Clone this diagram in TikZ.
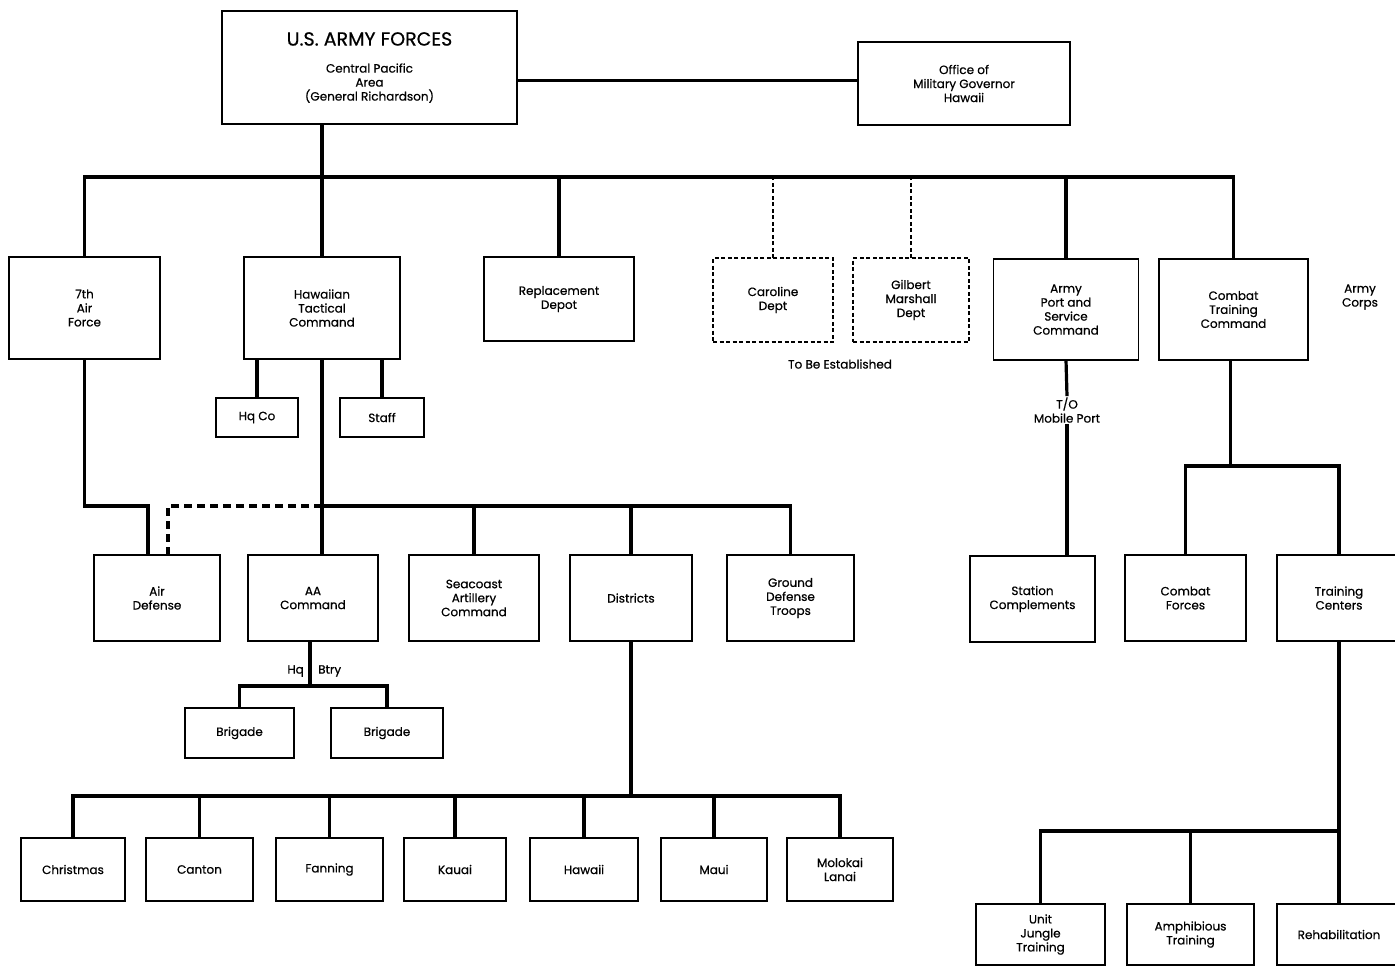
\documentclass[tikz,border=0pt]{standalone}
\usepackage{fontspec}
\setmainfont{Poppins}[FakeBold=0.6]
\usetikzlibrary{positioning}

\newcommand{\boxfont}{\fontsize{12}{14}\selectfont}
\newcommand{\titlefont}{\fontsize{19}{22}\selectfont}

\tikzset{
  box/.style={draw, line width=1.6pt, align=center, inner sep=0pt, outer sep=0pt, font=\boxfont},
  dbox/.style={box, line width=1.3pt, dash pattern=on 4pt off 2.5pt},
  conn/.style={line width=3.2pt},
  thindash/.style={line width=1.4pt, dash pattern=on 4pt off 2.5pt},
  thickdash/.style={line width=3.2pt, dash pattern=on 8pt off 5pt},
  lbl/.style={align=center, inner sep=1pt, font=\boxfont},
}

\begin{document}
\begin{tikzpicture}[x=1pt, y=-1pt]
  \clip (0,0) rectangle (1395,967);
  \fill[white] (0,0) rectangle (1395,967);

  % top level
  \node[box, minimum width=295, minimum height=113] (top) at (369.5,67.5)
    {{\titlefont U.S.\ ARMY FORCES}\\[13pt] Central Pacific\\Area\\(General Richardson)};
  \node[box, minimum width=212, minimum height=83] (omg) at (964,83.5)
    {Office of\\Military Governor\\Hawaii};

  % second row
  \node[box, minimum width=151, minimum height=102] (af) at (84.5,308) {7th\\Air\\Force};
  \node[box, minimum width=156, minimum height=102] (htc) at (322,308) {Hawaiian\\Tactical\\Command};
  \node[box, minimum width=150, minimum height=84] (rd) at (559,299) {Replacement\\Depot};
  \node[dbox, minimum width=120, minimum height=84] (cd) at (773,300) {Caroline\\Dept};
  \node[dbox, minimum width=116, minimum height=84] (gmd) at (911,300) {Gilbert\\Marshall\\Dept};
  \node[box, minimum width=145, minimum height=101] (apsc) at (1066,309.5) {Army\\Port and\\Service\\Command};
  \node[box, minimum width=149, minimum height=101] (ctc) at (1233.5,309.5) {Combat\\Training\\Command};
  \node[lbl] (corps) at (1360,297) {Army\\Corps};
  \node[lbl] (tbe) at (840,364) {To Be Established};

  % under Hawaiian Tactical Command
  \node[box, minimum width=82, minimum height=39] (hq) at (257,417.5) {Hq Co};
  \node[box, minimum width=84, minimum height=39] (staff) at (382,417.5) {Staff};

  % third row
  \node[box, minimum width=126, minimum height=86] (ad) at (157,598) {Air\\Defense};
  \node[box, minimum width=130, minimum height=86] (aa) at (313,598) {AA\\Command};
  \node[box, minimum width=130, minimum height=86] (sac) at (474,598) {Seacoast\\Artillery\\Command};
  \node[box, minimum width=122, minimum height=86] (dist) at (631,598) {Districts};
  \node[box, minimum width=127, minimum height=86] (gdt) at (790.5,598) {Ground\\Defense\\Troops};
  \node[box, minimum width=125, minimum height=86] (sc) at (1032.5,599) {Station\\Complements};
  \node[box, minimum width=121, minimum height=86] (cf) at (1185.5,598) {Combat\\Forces};
  \node[box, minimum width=124, minimum height=86] (tc) at (1339,598) {Training\\Centers};

  % brigades
  \node[box, minimum width=109, minimum height=50] (br1) at (239.5,733) {Brigade};
  \node[box, minimum width=112, minimum height=50] (br2) at (387,733) {Brigade};
  \node[lbl, anchor=east] (hqlbl) at (305,671) {Hq};
  \node[lbl, anchor=west] (btry) at (317,671) {Btry};

  % districts
  \node[box, minimum width=104, minimum height=63] (chr) at (73,869.5) {Christmas};
  \node[box, minimum width=107, minimum height=63] (can) at (199.5,869.5) {Canton};
  \node[box, minimum width=107, minimum height=63] (fan) at (329.5,869.5) {Fanning};
  \node[box, minimum width=102, minimum height=63] (kau) at (455,869.5) {Kauai};
  \node[box, minimum width=108, minimum height=63] (haw) at (584,869.5) {Hawaii};
  \node[box, minimum width=106, minimum height=63] (mau) at (714,869.5) {Maui};
  \node[box, minimum width=106, minimum height=63] (mol) at (840,869.5) {Molokai\\Lanai};

  % training centers
  \node[box, minimum width=129, minimum height=61] (ujt) at (1040.5,934.5) {Unit\\Jungle\\Training};
  \node[box, minimum width=127, minimum height=61] (amt) at (1190.5,934.5) {Amphibious\\Training};
  \node[box, minimum width=124, minimum height=61] (reh) at (1339,934.5) {Rehabilitation};

  % T/O label on the port line
  \node[lbl] (tomp) at (1067,410) {T/O\\Mobile Port};

  % bus lines
  \coordinate (b1) at (0,177);
  \coordinate (b2) at (0,506);
  \coordinate (b3) at (0,686);
  \coordinate (b4) at (0,796);
  \coordinate (b5) at (0,466);
  \coordinate (b6) at (0,831);

  % connectors, top level
  \draw[conn] ([yshift=3pt]omg.west) -- ([yshift=3pt]omg.west -| top.east);
  \draw[conn] (top.south -| htc.north) -- (htc.north);
  \draw[conn] (af.north) |- (ctc.north |- b1) -- (ctc.north);
  \draw[conn] (rd.north) -- (rd.north |- b1);
  \draw[conn] (apsc.north) -- (apsc.north |- b1);
  \draw[thindash] (cd.north) -- (cd.north |- b1);
  \draw[thindash] (gmd.north) -- (gmd.north |- b1);

  % Hawaiian Tactical Command
  \draw[conn] (hq.north) -- (hq.north |- htc.south);
  \draw[conn] (staff.north) -- (staff.north |- htc.south);
  \draw[conn] (htc.south) -- (htc.south |- aa.north);
  \draw[conn] (htc.south |- b2) -| (gdt.north);
  \draw[conn] (sac.north) -- (sac.north |- b2);
  \draw[conn] (dist.north) -- (dist.north |- b2);
  \draw[conn] (af.south) |- ([xshift=-9pt]ad.north |- b2) -- ([xshift=-9pt]ad.north);
  \draw[thickdash] (htc.south |- b2) -| ([xshift=11pt]ad.north);

  % AA Command
  \draw[conn] ([xshift=-3pt]aa.south) -- ([xshift=-3pt]aa.south |- b3);
  \draw[conn] (br1.north) |- (br2.north |- b3) -- (br2.north);

  % Districts
  \draw[conn] (dist.south) -- (dist.south |- b4);
  \draw[conn] (chr.north) |- (mol.north |- b4) -- (mol.north);
  \foreach \n in {can, fan, kau, haw, mau}
    \draw[conn] (\n.north) -- (\n.north |- b4);

  % Army Port and Service Command
  \draw[conn] (apsc.south) -- (tomp.north);
  \draw[conn] (tomp.south) -- (tomp.south |- sc.north);

  % Combat Training Command
  \draw[conn] ([xshift=-3pt]ctc.south) -- ([xshift=-3pt]ctc.south |- b5);
  \draw[conn] (cf.north) |- (tc.north |- b5) -- (tc.north);
  \draw[conn] (tc.south) -- (reh.north);
  \draw[conn] (ujt.north) |- (tc.south |- b6);
  \draw[conn] (amt.north) -- (amt.north |- b6);
\end{tikzpicture}
\end{document}
